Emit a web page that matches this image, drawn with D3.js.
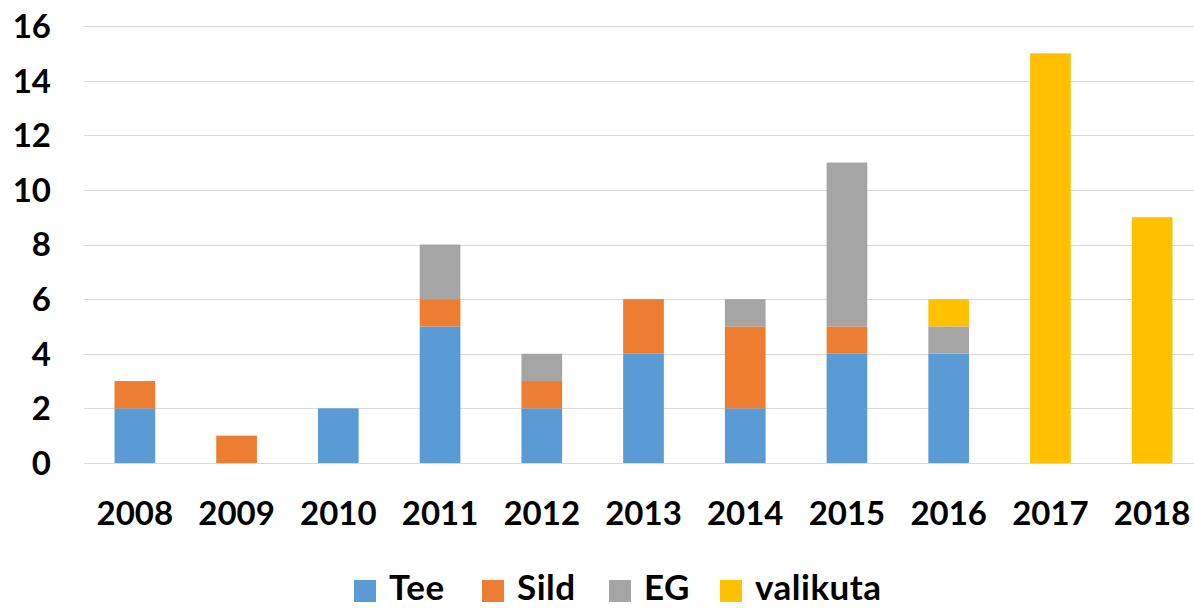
<!DOCTYPE html>
<html>
<head>
<meta charset="utf-8">
<script src="https://cdn.jsdelivr.net/npm/d3@7"></script>
<style>
  body { margin: 0; background: #fff; }
  svg { display: block; font-family: Lato, "Open Sans", sans-serif; font-weight: bold; }
</style>
</head>
<body>
<div id="chart"></div>
<script>
// chart data
const years    = ["2008", "2009", "2010", "2011", "2012", "2013", "2014", "2015", "2016", "2017", "2018"];
const tee      = [2, 0, 2, 5, 2, 4, 2, 4, 4, 0, 0];
const sild     = [1, 1, 0, 1, 1, 2, 3, 1, 0, 0, 0];
const eg       = [0, 0, 0, 2, 1, 0, 1, 6, 1, 0, 0];
const valikuta = [0, 0, 0, 0, 0, 0, 0, 0, 1, 15, 9];
const yTicks   = [0, 2, 4, 6, 8, 10, 12, 14, 16];

const seriesNames  = ["Tee", "Sild", "EG", "valikuta"];
const seriesColors = ["#5B9BD5", "#ED7D31", "#A5A5A5", "#FFC000"];

const width = 1194, height = 608;
const margin = { top: 26, right: -9, bottom: 145, left: 84 };

// build table for d3.stack
const table = years.map((y, i) => ({
    year: y, Tee: tee[i], Sild: sild[i], EG: eg[i], valikuta: valikuta[i]
}));
const stacked = d3.stack().keys(seriesNames)(table);

const x = d3.scaleBand()
    .domain(years)
    .range([margin.left, width - margin.right])
    .paddingInner(0.6)
    .paddingOuter(0.3);

const y = d3.scaleLinear()
    .domain([0, 16])
    .range([height - margin.bottom, margin.top]);

const color = d3.scaleOrdinal().domain(seriesNames).range(seriesColors);

const svg = d3.select("#chart").append("svg")
    .attr("width", width)
    .attr("height", height);

// gridlines
svg.append("g")
    .selectAll("line")
    .data(yTicks)
    .join("line")
        .attr("x1", margin.left)
        .attr("x2", width - margin.right)
        .attr("y1", d => Math.round(y(d)) + 0.5)
        .attr("y2", d => Math.round(y(d)) + 0.5)
        .attr("stroke", "#d9d9d9")
        .attr("stroke-width", 1.2);

// y tick labels
svg.append("g")
    .selectAll("text")
    .data(yTicks)
    .join("text")
        .attr("x", 51)
        .attr("y", d => y(d))
        .attr("dy", "0.36em")
        .attr("text-anchor", "end")
        .attr("font-size", 33)
        .attr("fill", "#000")
        .text(d => d);

// bars
svg.append("g")
    .selectAll("g")
    .data(stacked)
    .join("g")
        .attr("fill", d => color(d.key))
    .selectAll("rect")
    .data(d => d.filter(s => s[1] - s[0] > 0))
    .join("rect")
        .attr("x", d => x(d.data.year))
        .attr("width", x.bandwidth())
        .attr("y", d => y(d[1]))
        .attr("height", d => y(d[0]) - y(d[1]));

// x labels
svg.append("g")
    .selectAll("text")
    .data(years)
    .join("text")
        .attr("x", d => x(d) + x.bandwidth() / 2)
        .attr("y", 525)
        .attr("text-anchor", "middle")
        .attr("font-size", 33)
        .attr("fill", "#000")
        .text(d => d);

// legend
const legendX = [354, 482, 609, 720];
const legend = svg.append("g")
    .selectAll("g")
    .data(seriesNames)
    .join("g")
        .attr("transform", (d, i) => `translate(${legendX[i]},580)`);

legend.append("rect")
    .attr("width", 22)
    .attr("height", 22)
    .attr("fill", d => color(d));

legend.append("text")
    .attr("x", 35)
    .attr("y", 20)
    .attr("font-size", 35)
    .attr("letter-spacing", 0.5)
    .attr("fill", "#000")
    .text(d => d);
</script>
</body>
</html>
